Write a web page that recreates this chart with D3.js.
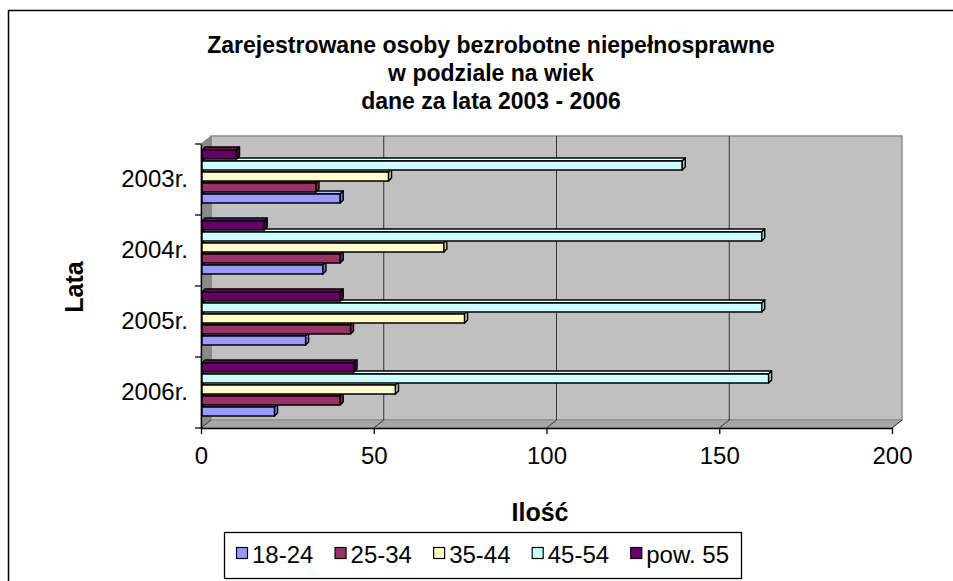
<!DOCTYPE html>
<html>
<head>
<meta charset="utf-8">
<script src="https://cdn.jsdelivr.net/npm/d3@7"></script>
<style>
body { margin: 0; background: #fff; }
svg { display: block; }
text { font-family: "Liberation Sans", Arial, sans-serif; fill: #000; }
</style>
</head>
<body>
<svg id="chart" width="953" height="581"></svg>
<script>
// dane
var categories = ["2003r.", "2004r.", "2005r.", "2006r."];
var seriesNames = ["18-24", "25-34", "35-44", "45-54", "pow. 55"];
var s18_24 = [40, 35, 30, 21];
var s25_34 = [33, 40, 43, 40];
var s35_44 = [54, 70, 76, 56];
var s45_54 = [139, 162, 162, 164];
var sPow55 = [10, 18, 40, 44];
var xTicks = [0, 50, 100, 150, 200];
var titleLines = ["Zarejestrowane osoby bezrobotne niepełnosprawne", "w podziale na wiek", "dane za lata 2003 - 2006"];
var seriesColors = ["#9999ff", "#993366", "#ffffcc", "#ccffff", "#660066"];

var seriesValues = [s18_24, s25_34, s35_44, s45_54, sPow55];

var svg = d3.select("#chart");
var dx = 10, dy = -8;   // glebokosc scian
var bdx = 3, bdy = -3;  // glebokosc slupkow

var x = d3.scaleLinear().domain([0, 200]).range([201, 892]);
var y = d3.scaleBand().domain(categories).range([144, 428]);
var inner = d3.scaleBand().domain(seriesNames.slice().reverse()).range([4, 59]);
var color = d3.scaleOrdinal().domain(seriesNames).range(seriesColors);

var yTop = y.range()[0], yBottom = y.range()[1];
var x0 = x(0), x1 = x(200);

// ramka
svg.append("rect").attr("x", 8.5).attr("y", 10.5).attr("width", 960).attr("height", 600)
    .attr("fill", "#fff").attr("stroke", "#000").attr("stroke-width", 1.5);

// sciany
svg.append("rect").attr("x", x0 + dx).attr("y", yTop + dy).attr("width", x1 - x0).attr("height", yBottom - yTop)
    .attr("fill", "#c0c0c0").attr("stroke", "#8c8c8c").attr("stroke-width", 1.5);
svg.append("polygon")
    .attr("points", [[x0, yTop], [x0 + dx, yTop + dy], [x0 + dx, yBottom + dy], [x0, yBottom]].join(" "))
    .attr("fill", "#8a8a8a").attr("stroke", "#808080");
svg.append("polygon")
    .attr("points", [[x0, yBottom], [x0 + dx, yBottom + dy], [x1 + dx, yBottom + dy], [x1, yBottom]].join(" "))
    .attr("fill", "#a6a6a6").attr("stroke", "#8c8c8c");

// siatka
svg.append("g").selectAll("line").data(xTicks.slice(1, -1)).enter().append("line")
    .attr("x1", d => x(d) + dx).attr("x2", d => x(d) + dx)
    .attr("y1", yTop + dy).attr("y2", yBottom + dy)
    .attr("stroke", "#333").attr("stroke-width", 1);
svg.append("g").selectAll("line").data(xTicks).enter().append("line")
    .attr("x1", d => x(d)).attr("x2", d => x(d) + dx)
    .attr("y1", yBottom).attr("y2", yBottom + dy)
    .attr("stroke", "#333").attr("stroke-width", 1);

// slupki
var bars = svg.append("g");
categories.slice().reverse().forEach(function (cat) {
    var ci = categories.indexOf(cat);
    seriesNames.forEach(function (s, si) {
        var v = seriesValues[si][ci];
        var c = d3.color(color(s));
        var y0 = y(cat) + inner(s);
        var h = inner.bandwidth();
        var xs = x0 + 1, xe = x(v) + 1;
        var g = bars.append("g").attr("stroke", "#000").attr("stroke-width", 1.4).attr("stroke-linejoin", "round");
        g.append("polygon")
            .attr("points", [[xs, y0 + 2], [xs + bdx, y0 + 2 + bdy], [xe + bdx, y0 + 2 + bdy], [xe, y0 + 2]].join(" "))
            .attr("fill", c.brighter(0.5));
        g.append("rect").attr("x", xs).attr("y", y0 + 2).attr("width", xe - xs).attr("height", h - 2)
            .attr("fill", c);
        g.append("polygon")
            .attr("points", [[xe, y0 + 2], [xe + bdx, y0 + 2 + bdy], [xe + bdx, y0 + h + bdy], [xe, y0 + h]].join(" "))
            .attr("fill", c.darker(0.7));
    });
});

// osie
var xAxis = svg.append("g").attr("transform", "translate(0," + yBottom + ")")
    .call(d3.axisBottom(x).tickValues(xTicks).tickSize(6).tickSizeOuter(0).tickPadding(13));
xAxis.selectAll("text").attr("font-size", 24).attr("font-family", null);
xAxis.selectAll("line,path").attr("stroke", "#000").attr("stroke-width", 1.3);

var yAxis = svg.append("g").attr("transform", "translate(" + x0 + ",0)")
    .call(d3.axisLeft(y).tickSize(0).tickPadding(13));
yAxis.selectAll("text").attr("font-size", 24).attr("font-family", null);
yAxis.select("path").attr("stroke", "#000").attr("stroke-width", 1.3);
yAxis.selectAll(".bound").data(categories.map(d => y(d)).concat([yBottom])).enter().append("line")
    .attr("class", "bound").attr("x1", -6).attr("x2", 0).attr("y1", d => d).attr("y2", d => d)
    .attr("stroke", "#000").attr("stroke-width", 1.3);

// tytuly
svg.append("g").selectAll("text").data(titleLines).enter().append("text")
    .attr("x", 491).attr("y", (d, i) => 53 + i * 28)
    .attr("text-anchor", "middle").attr("font-size", 23).attr("font-weight", "bold")
    .text(d => d);
svg.append("text").attr("x", 540).attr("y", 521).attr("text-anchor", "middle")
    .attr("font-size", 25).attr("font-weight", "bold").text("Ilość");
svg.append("text").attr("transform", "translate(83,287) rotate(-90)").attr("text-anchor", "middle")
    .attr("font-size", 25).attr("font-weight", "bold").text("Lata");

// legenda
var lx = 224, ly = 532, lw = 517, lh = 46, pad = 12, sq = 11;
svg.append("rect").attr("x", lx + 0.5).attr("y", ly + 0.5).attr("width", lw).attr("height", lh)
    .attr("fill", "#fff").attr("stroke", "#000").attr("stroke-width", 1.3);
var items = svg.append("g").selectAll("g").data(seriesNames).enter().append("g");
items.append("text").attr("font-size", 24).attr("y", ly + 31).attr("x", 0).text(d => d);
var widths = [];
items.select("text").each(function () { widths.push(this.getComputedTextLength()); });
var total = d3.sum(widths) + seriesNames.length * (sq + 5);
var gap = (lw - 2 * pad - total) / (seriesNames.length - 1);
var cx = lx + pad;
items.each(function (d, i) {
    var it = d3.select(this);
    it.insert("rect", "text").attr("x", cx + 0.5).attr("y", ly + 15.5).attr("width", sq).attr("height", sq)
        .attr("fill", color(d)).attr("stroke", "#000").attr("stroke-width", 1.2);
    it.select("text").attr("x", cx + sq + 5);
    cx += sq + 5 + widths[i] + gap;
});
</script>
</body>
</html>
